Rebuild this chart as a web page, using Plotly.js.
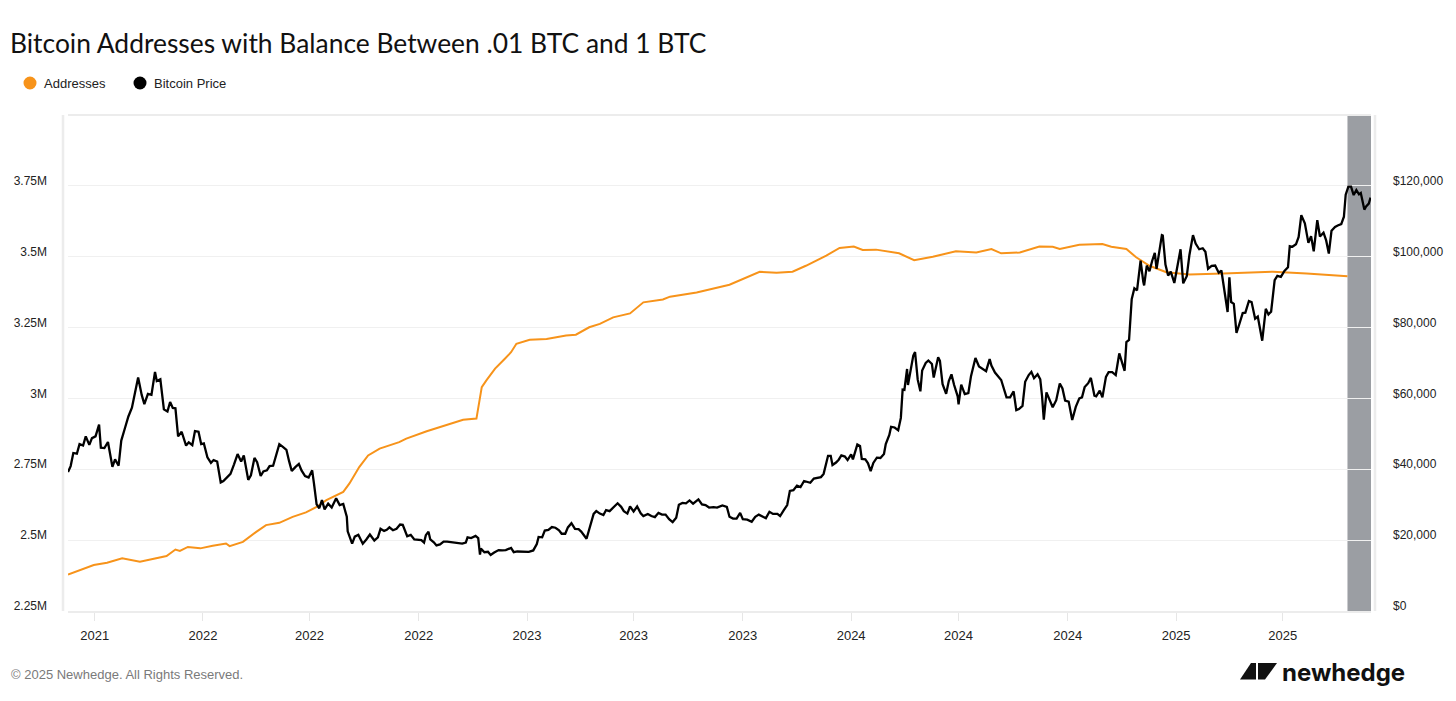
<!DOCTYPE html>
<html>
<head>
<meta charset="utf-8">
<script src="https://cdn.plot.ly/plotly-3.0.1.min.js"></script>
<style>
html,body{margin:0;padding:0;background:#fff;}
#chart{width:1456px;height:701px;}
</style>
</head>
<body>
<div id="chart"></div>
<script>
// ---------- DATA ----------
const addrDates = ['2021-08-02','2021-08-31','2021-09-15','2021-10-02','2021-10-22','2021-11-10','2021-11-21','2021-12-01','2021-12-06','2021-12-15','2021-12-29',
'2022-01-12','2022-01-27','2022-01-31','2022-02-15','2022-03-02','2022-03-13','2022-03-28','2022-04-12','2022-04-27','2022-05-09','2022-05-20','2022-06-08','2022-06-15','2022-06-26','2022-07-06','2022-07-19','2022-08-10','2022-08-18','2022-09-10','2022-10-02','2022-10-21','2022-11-05','2022-11-11','2022-11-16','2022-11-26','2022-12-07','2022-12-14','2022-12-20',
'2023-01-04','2023-01-23','2023-02-14','2023-02-25','2023-03-12','2023-03-24','2023-04-08','2023-04-27','2023-05-12','2023-06-03','2023-06-11','2023-07-11','2023-08-06','2023-08-17','2023-09-20','2023-10-09','2023-10-27','2023-11-11','2023-12-04','2023-12-19',
'2024-01-04','2024-01-14','2024-01-29','2024-02-24','2024-03-12','2024-04-02','2024-04-28','2024-05-21','2024-06-07','2024-06-18','2024-07-09','2024-07-31','2024-08-15','2024-08-23','2024-09-14','2024-10-10','2024-10-20','2024-11-06','2024-11-17','2024-12-02','2024-12-21',
'2025-01-16','2025-02-23','2025-04-20','2025-05-28','2025-07-13'];
const addrValues = [2.379,2.412,2.420,2.436,2.424,2.436,2.444,2.467,2.462,2.476,2.471,
2.480,2.488,2.479,2.494,2.529,2.553,2.561,2.582,2.598,2.617,2.641,2.670,2.700,2.758,2.799,2.823,2.846,2.858,2.884,2.905,2.925,2.929,3.040,3.063,3.105,3.140,3.163,3.193,
3.207,3.210,3.222,3.225,3.251,3.263,3.286,3.300,3.339,3.349,3.359,3.374,3.392,3.401,3.447,3.443,3.447,3.468,3.504,3.531,
3.536,3.524,3.525,3.512,3.488,3.500,3.519,3.515,3.527,3.512,3.515,3.536,3.535,3.527,3.542,3.545,3.535,3.527,3.498,3.468,3.445,
3.437,3.441,3.447,3.441,3.431];

const priceDates = ['2021-08-02','2021-08-05','2021-08-08','2021-08-12','2021-08-15','2021-08-19','2021-08-22','2021-08-26','2021-08-29','2021-09-02','2021-09-06','2021-09-08','2021-09-12','2021-09-16','2021-09-21','2021-09-24','2021-09-28','2021-10-01','2021-10-05','2021-10-09','2021-10-13','2021-10-16','2021-10-20','2021-10-24','2021-10-27','2021-10-31','2021-11-04','2021-11-08','2021-11-10','2021-11-14','2021-11-18','2021-11-22','2021-11-25','2021-11-28','2021-12-01','2021-12-04','2021-12-08','2021-12-13','2021-12-16','2021-12-20','2021-12-23','2021-12-27','2021-12-30',
'2022-01-02','2022-01-06','2022-01-10','2022-01-13','2022-01-17','2022-01-21','2022-01-24','2022-01-28','2022-02-01','2022-02-05','2022-02-09','2022-02-13','2022-02-16','2022-02-21','2022-02-24','2022-02-28','2022-03-03','2022-03-07','2022-03-10','2022-03-14','2022-03-17','2022-03-21','2022-03-25','2022-03-28','2022-04-01','2022-04-05','2022-04-08','2022-04-11','2022-04-15','2022-04-19','2022-04-22','2022-04-26','2022-04-30','2022-05-04','2022-05-06','2022-05-09','2022-05-12','2022-05-15','2022-05-18','2022-05-22','2022-05-26','2022-05-31','2022-06-04','2022-06-08','2022-06-12','2022-06-13','2022-06-18','2022-06-21','2022-06-25','2022-06-30','2022-07-04','2022-07-08','2022-07-13','2022-07-17','2022-07-20','2022-07-24','2022-07-27','2022-07-30','2022-08-03','2022-08-07','2022-08-11','2022-08-14','2022-08-19','2022-08-23','2022-08-27','2022-08-31','2022-09-04','2022-09-07','2022-09-09','2022-09-12','2022-09-14','2022-09-18','2022-09-21','2022-09-25','2022-09-29','2022-10-03','2022-10-07','2022-10-12','2022-10-16','2022-10-20','2022-10-24','2022-10-26','2022-10-30','2022-11-04','2022-11-07','2022-11-09','2022-11-10','2022-11-14','2022-11-18','2022-11-21','2022-11-25','2022-11-30','2022-12-04','2022-12-08','2022-12-14','2022-12-17','2022-12-21','2022-12-25','2022-12-30',
'2023-01-03','2023-01-08','2023-01-12','2023-01-14','2023-01-18','2023-01-21','2023-01-25','2023-01-29','2023-02-02','2023-02-06','2023-02-09','2023-02-13','2023-02-16','2023-02-20','2023-02-24','2023-02-28','2023-03-03','2023-03-09','2023-03-13','2023-03-17','2023-03-20','2023-03-24','2023-03-28','2023-03-31','2023-04-04','2023-04-10','2023-04-13','2023-04-17','2023-04-20','2023-04-24','2023-04-27','2023-05-01','2023-05-05','2023-05-09','2023-05-12','2023-05-17','2023-05-21','2023-05-25','2023-05-29','2023-06-02','2023-06-06','2023-06-10','2023-06-14','2023-06-18','2023-06-21','2023-06-25','2023-06-29','2023-07-03','2023-07-07','2023-07-13','2023-07-17','2023-07-21','2023-07-25','2023-07-30','2023-08-03','2023-08-09','2023-08-14','2023-08-17','2023-08-21','2023-08-25','2023-08-29','2023-09-01','2023-09-06','2023-09-11','2023-09-15','2023-09-19','2023-09-23','2023-09-27','2023-10-01','2023-10-05','2023-10-10','2023-10-13','2023-10-17','2023-10-21','2023-10-24','2023-10-28','2023-11-01','2023-11-05','2023-11-09','2023-11-13','2023-11-16','2023-11-20','2023-11-24','2023-11-28','2023-12-01','2023-12-04','2023-12-06','2023-12-09','2023-12-11','2023-12-15','2023-12-18','2023-12-21','2023-12-25','2023-12-28',
'2024-01-01','2024-01-03','2024-01-08','2024-01-11','2024-01-13','2024-01-17','2024-01-20','2024-01-23','2024-01-26','2024-01-30','2024-02-03','2024-02-07','2024-02-09','2024-02-13','2024-02-15','2024-02-19','2024-02-23','2024-02-26','2024-02-28','2024-03-01','2024-03-04','2024-03-05','2024-03-08','2024-03-11','2024-03-13','2024-03-16','2024-03-19','2024-03-21','2024-03-25','2024-03-28','2024-04-01','2024-04-03','2024-04-08','2024-04-10','2024-04-13','2024-04-17','2024-04-20','2024-04-23','2024-04-26','2024-04-30','2024-05-01','2024-05-04','2024-05-08','2024-05-12','2024-05-15','2024-05-20','2024-05-24','2024-05-28','2024-06-01','2024-06-05','2024-06-07','2024-06-11','2024-06-15','2024-06-18','2024-06-24','2024-06-28','2024-07-02','2024-07-05','2024-07-08','2024-07-12','2024-07-15','2024-07-19','2024-07-22','2024-07-25','2024-07-29','2024-08-01','2024-08-03','2024-08-05','2024-08-08','2024-08-12','2024-08-15','2024-08-19','2024-08-23','2024-08-26','2024-08-29','2024-09-02','2024-09-06','2024-09-10','2024-09-14','2024-09-17','2024-09-20','2024-09-24','2024-09-27','2024-10-01','2024-10-03','2024-10-07','2024-10-10','2024-10-14','2024-10-17','2024-10-21','2024-10-25','2024-10-29','2024-11-02','2024-11-04','2024-11-06','2024-11-09','2024-11-12','2024-11-15','2024-11-18','2024-11-22','2024-11-25','2024-11-26','2024-11-29','2024-12-02','2024-12-05','2024-12-08','2024-12-10','2024-12-13','2024-12-16','2024-12-17','2024-12-20','2024-12-23','2024-12-26','2024-12-30',
'2025-01-03','2025-01-06','2025-01-09','2025-01-13','2025-01-16','2025-01-20','2025-01-23','2025-01-27','2025-01-31','2025-02-03','2025-02-06','2025-02-10','2025-02-14','2025-02-18','2025-02-21','2025-02-25','2025-02-28','2025-03-02','2025-03-04','2025-03-07','2025-03-10','2025-03-13','2025-03-17','2025-03-20','2025-03-24','2025-03-27','2025-03-31','2025-04-03','2025-04-06','2025-04-08','2025-04-12','2025-04-15','2025-04-18','2025-04-22','2025-04-25','2025-04-29','2025-05-03','2025-05-07','2025-05-09','2025-05-12','2025-05-16','2025-05-19','2025-05-22','2025-05-26','2025-05-30','2025-06-02','2025-06-05','2025-06-09','2025-06-12','2025-06-16','2025-06-19','2025-06-22','2025-06-25','2025-06-29','2025-07-02','2025-07-06','2025-07-09','2025-07-11','2025-07-14','2025-07-17','2025-07-20','2025-07-23','2025-07-26','2025-07-28','2025-08-01','2025-08-03','2025-08-06','2025-08-08'];
const priceValues = [39.2,40.9,44.6,44.4,47.1,46.7,49.3,46.9,48.8,49.3,52.6,46.1,46.0,47.7,40.7,42.8,41.0,48.1,51.5,54.9,57.4,60.8,65.9,61.0,58.4,61.3,61.0,67.5,64.9,65.4,56.9,56.3,59.0,57.3,57.2,49.3,50.6,46.7,47.6,46.8,50.8,50.6,47.1,
47.3,43.4,41.8,42.6,42.2,36.3,36.7,37.7,38.7,41.4,44.3,42.2,43.9,37.0,38.3,43.2,42.0,38.1,39.4,39.7,40.9,41.0,44.3,47.1,46.3,45.5,42.3,39.5,40.6,41.5,39.7,38.1,37.7,39.7,36.0,30.1,29.0,31.3,28.7,30.3,29.2,31.8,29.9,30.2,26.6,22.5,19.0,21.0,21.5,19.0,20.2,21.6,19.9,20.8,23.2,22.6,22.9,23.6,22.8,23.2,24.4,24.3,21.1,21.5,20.2,20.0,20.0,19.3,21.4,22.4,20.2,19.4,18.5,18.8,19.6,19.6,19.5,19.2,19.3,19.0,19.3,20.8,20.6,21.2,20.6,15.9,17.6,16.6,16.7,15.8,16.5,17.2,17.1,17.2,17.8,16.6,16.8,16.8,16.6,
16.7,17.1,18.9,20.9,20.8,22.7,22.9,23.7,23.5,22.8,21.8,21.8,23.6,24.8,23.2,23.1,22.4,20.4,24.2,27.4,28.2,27.5,27.1,28.5,28.2,29.7,30.4,29.4,28.2,27.5,29.5,28.1,29.5,27.6,26.8,27.4,26.8,26.5,27.7,27.2,27.2,25.9,25.1,26.3,30.0,30.5,30.4,31.2,30.3,31.5,30.1,29.9,29.2,29.3,29.2,29.8,29.4,26.6,26.1,26.1,27.7,25.9,25.8,25.2,26.6,27.2,26.6,26.2,28.0,27.4,27.4,26.8,28.4,29.9,33.9,34.1,35.4,35.0,36.7,36.5,36.2,37.4,37.7,37.8,38.7,42.0,43.8,43.8,41.2,41.9,42.7,43.9,43.6,42.6,
44.2,42.8,47.0,46.6,42.9,42.8,41.7,39.5,41.8,43.3,43.2,44.3,47.1,49.7,52.0,51.8,51.0,54.5,62.5,62.4,68.3,63.8,68.3,72.1,73.1,65.3,62.0,67.9,70.0,70.7,69.7,65.9,71.6,70.6,64.0,61.3,64.9,66.8,63.8,60.6,58.3,63.9,61.2,61.5,66.3,71.4,69.0,68.3,67.7,71.1,69.3,67.3,66.2,65.2,60.3,60.3,62.0,56.7,57.0,57.9,64.7,66.6,67.5,65.7,66.8,65.4,60.7,54.0,61.7,59.3,57.5,59.5,64.2,62.8,59.4,59.1,53.9,57.6,60.0,60.3,63.2,64.3,65.8,60.8,60.6,62.2,60.3,66.1,67.4,67.4,66.6,72.7,69.4,67.8,75.9,76.5,88.0,91.1,90.5,98.9,93.0,91.9,97.5,95.9,98.8,101.1,96.6,101.4,106.1,106.0,97.8,94.7,95.8,92.6,
98.1,102.1,92.5,94.5,100.5,106.1,103.7,102.1,102.4,101.4,96.6,97.4,97.5,95.5,96.1,88.7,84.4,94.2,87.2,86.7,78.5,80.8,84.1,84.2,87.5,87.2,82.5,83.1,78.2,76.3,85.3,83.7,84.5,93.4,94.6,94.3,96.0,97.0,103.0,102.8,103.5,105.6,111.7,109.4,103.9,105.8,101.5,110.3,105.7,106.8,104.6,100.9,107.3,108.4,108.8,109.2,111.3,117.5,119.8,119.8,117.4,118.8,117.6,118.0,113.3,114.2,115.0,116.7];

const xTickVals = ['2021-09-01','2022-01-01','2022-05-01','2022-09-01','2023-01-01','2023-05-01','2023-09-01','2024-01-01','2024-05-01','2024-09-01','2025-01-01','2025-05-01'];
const xTickText = ['2021','2022','2022','2022','2023','2023','2023','2024','2024','2024','2025','2025'];
const leftTickVals = [2.25,2.5,2.75,3,3.25,3.5,3.75];
const leftTickText = ['2.25M','2.5M','2.75M','3M','3.25M','3.5M','3.75M'];
const rightTickVals = [0,20,40,60,80,100,120];
const rightTickText = ['$0','$20,000','$40,000','$60,000','$80,000','$100,000','$120,000'];
const seriesNames = ['Addresses','Bitcoin Price'];
const highlightStart = '2025-07-13';

// ---------- LAYOUT HELPERS ----------
const W = 1456, H = 701;
const PL = 68, PR = 1371, PT = 115, PB = 611;
const px = v => (v - PL) / (PR - PL);
const py = v => (PB - v) / (PB - PT);
const ORANGE = '#f7931a';
const AXIS_FONT = {family: '"Liberation Sans", Arial, sans-serif', size: 12, color: '#222'};

const traces = [
  {x: addrDates, y: addrValues, type: 'scatter', mode: 'lines', name: seriesNames[0],
   line: {color: ORANGE, width: 2}, yaxis: 'y', showlegend: false, hoverinfo: 'skip'},
  {x: priceDates, y: priceValues, type: 'scatter', mode: 'lines', name: seriesNames[1],
   line: {color: '#000', width: 2.3}, yaxis: 'y2', showlegend: false, hoverinfo: 'skip'}
];

function poly(pts){
  return 'M' + pts.map(p => px(p[0]).toFixed(5) + ',' + py(p[1]).toFixed(5)).join(' L') + ' Z';
}

const shapes = [
  // highlight band
  {type: 'rect', xref: 'x', yref: 'paper', x0: highlightStart, x1: '2025-08-08 12:00', y0: 0, y1: 1,
   fillcolor: '#9b9ea3', line: {width: 0}, layer: 'between'},
  // top frame line
  {type: 'line', xref: 'paper', yref: 'paper', x0: 0, x1: 1, y0: 1, y1: 1, line: {color: '#ececec', width: 2}, layer: 'below'},
  // left / right axis lines (offset)
  {type: 'line', xref: 'paper', yref: 'paper', x0: px(63), x1: px(63), y0: 0, y1: 1, line: {color: '#ececec', width: 2.5}},
  {type: 'line', xref: 'paper', yref: 'paper', x0: px(1375), x1: px(1375), y0: 0, y1: 1, line: {color: '#ececec', width: 2.5}},
  // legend markers
  {type: 'circle', xref: 'paper', yref: 'paper', xsizemode: 'pixel', ysizemode: 'pixel',
   xanchor: px(30), yanchor: py(83), x0: -6.5, x1: 6.5, y0: -6.5, y1: 6.5, fillcolor: ORANGE, line: {width: 0}},
  {type: 'circle', xref: 'paper', yref: 'paper', xsizemode: 'pixel', ysizemode: 'pixel',
   xanchor: px(140), yanchor: py(83), x0: -6.5, x1: 6.5, y0: -6.5, y1: 6.5, fillcolor: '#000', line: {width: 0}},
  // newhedge logo mark
  {type: 'path', xref: 'paper', yref: 'paper', fillcolor: '#111', line: {width: 0},
   path: poly([[1240,679.5],[1251,663],[1256,663],[1256,679.5]])},
  {type: 'path', xref: 'paper', yref: 'paper', fillcolor: '#111', line: {width: 0},
   path: poly([[1258,663],[1277,663],[1265,679.5],[1258,679.5]])}
];

const annotations = [
  {text: seriesNames[0], xref: 'paper', yref: 'paper', x: px(42), y: py(83), xanchor: 'left', yanchor: 'middle',
   showarrow: false, font: {family: '"Liberation Sans", Arial, sans-serif', size: 13, color: '#222'}},
  {text: seriesNames[1], xref: 'paper', yref: 'paper', x: px(152), y: py(83), xanchor: 'left', yanchor: 'middle',
   showarrow: false, font: {family: '"Liberation Sans", Arial, sans-serif', size: 13, color: '#222'}},
  {text: '© 2025 Newhedge. All Rights Reserved.', xref: 'paper', yref: 'paper', x: px(9), y: py(674),
   xanchor: 'left', yanchor: 'middle', showarrow: false,
   font: {family: '"Liberation Sans", Arial, sans-serif', size: 13, color: '#7a7a7a'}},
  {text: '<b>newhedge</b>', xref: 'paper', yref: 'paper', x: px(1280), y: py(672),
   xanchor: 'left', yanchor: 'middle', showarrow: false,
   font: {family: 'Inter, sans-serif', size: 24, color: '#111'}}
];

const layout = {
  width: W, height: H,
  margin: {l: PL, r: W - PR, t: PT, b: H - PB, pad: 0},
  paper_bgcolor: '#fff', plot_bgcolor: '#fff',
  showlegend: false,
  title: {text: 'Bitcoin Addresses with Balance Between .01 BTC and 1 BTC',
          xref: 'container', yref: 'container', x: 10 / W, xanchor: 'left', y: 1 - 44 / H, yanchor: 'middle',
          font: {family: 'Lato, sans-serif', size: 26.4, color: '#111'}},
  xaxis: {type: 'date', range: ['2021-08-02', '2025-08-08 12:00'],
          tickmode: 'array', tickvals: xTickVals, ticktext: xTickText,
          showgrid: false, zeroline: false,
          showline: true, linecolor: '#ececec', linewidth: 2,
          ticks: 'outside', ticklen: 8, tickwidth: 1, tickcolor: '#e6e6e6',
          ticklabelstandoff: 3,
          tickfont: {family: '"Liberation Sans", Arial, sans-serif', size: 13, color: '#222'}},
  yaxis: {range: [2.25, 4.0], tickmode: 'array', tickvals: leftTickVals, ticktext: leftTickText,
          showgrid: true, gridcolor: '#f0f0f0', gridwidth: 1, zeroline: false, showline: false,
          ticks: '', ticklabelstandoff: 20, ticklabelshift: -5, tickfont: AXIS_FONT},
  yaxis2: {range: [0, 140], overlaying: 'y', side: 'right', tickmode: 'array',
           tickvals: rightTickVals, ticktext: rightTickText,
           showgrid: false, zeroline: false, showline: false,
           ticks: '', ticklabelstandoff: 21, ticklabelshift: -5, tickfont: AXIS_FONT},
  shapes: shapes,
  annotations: annotations
};

Plotly.newPlot('chart', traces, layout, {staticPlot: true, displayModeBar: false});
</script>
</body>
</html>
